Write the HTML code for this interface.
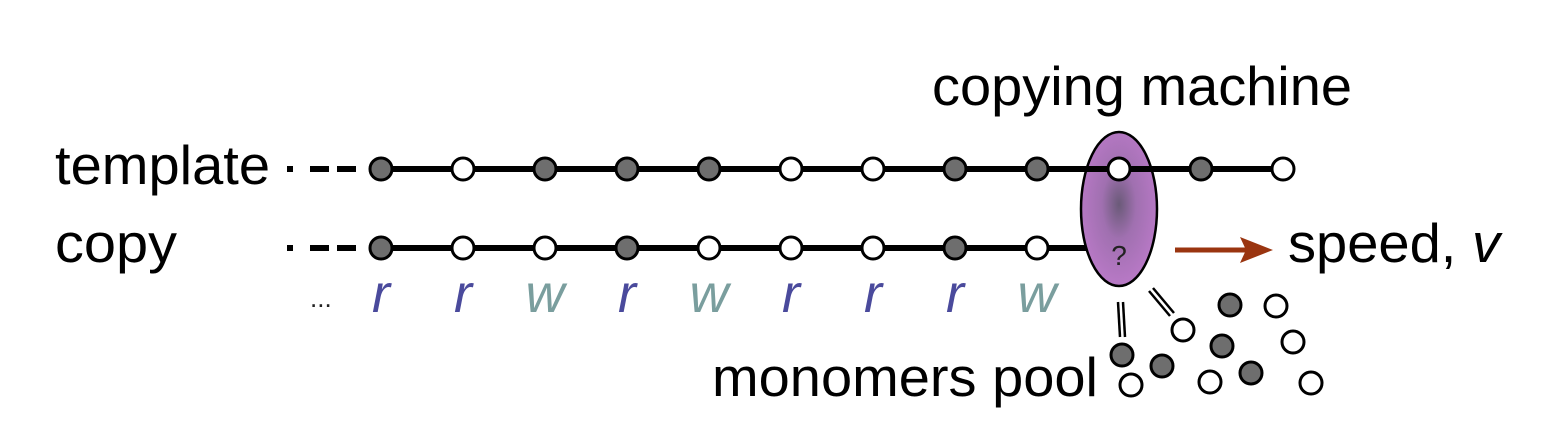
<!DOCTYPE html>
<html><head><style>
html,body{margin:0;padding:0;background:#fff;}
svg{display:block;}
text{font-family:"Liberation Sans",sans-serif;}
</style></head><body>
<svg width="1561" height="433" viewBox="0 0 1561 433" xmlns="http://www.w3.org/2000/svg">
<defs>
<radialGradient id="g" cx="50%" cy="47%" r="50%">
<stop offset="0" stop-color="#6a5a78"/>
<stop offset="0.45" stop-color="#a070b0"/>
<stop offset="1" stop-color="#b678c4"/>
</radialGradient>
</defs>
<text x="932" y="105" font-size="55" textLength="420" lengthAdjust="spacingAndGlyphs">copying machine</text>
<text x="55" y="184" font-size="55" textLength="215" lengthAdjust="spacingAndGlyphs">template</text>
<text x="55" y="262" font-size="55" textLength="122" lengthAdjust="spacingAndGlyphs">copy</text>
<text x="1288" y="262" font-size="55" textLength="212" lengthAdjust="spacingAndGlyphs">speed, <tspan font-style="italic">v</tspan></text>
<text x="712" y="396" font-size="55" textLength="386" lengthAdjust="spacingAndGlyphs">monomers pool</text>
<g fill="#000">
<rect x="287" y="166" width="6" height="6"/><rect x="310" y="166" width="19" height="6"/><rect x="337" y="166" width="19" height="6"/>
<rect x="287" y="245" width="6" height="6"/><rect x="310" y="245" width="19" height="6"/><rect x="337" y="245" width="19" height="6"/>
</g>
<line x1="381" y1="169" x2="1283" y2="169" stroke="#000" stroke-width="6"/>
<line x1="381" y1="248" x2="1090" y2="248" stroke="#000" stroke-width="6"/>
<ellipse cx="1119" cy="209" rx="38" ry="77" fill="url(#g)" stroke="#000" stroke-width="2.5"/>
<line x1="1085" y1="169" x2="1155" y2="169" stroke="#000" stroke-width="6"/>
<text x="1119" y="265" font-size="28" text-anchor="middle" fill="#222">?</text>
<g stroke="#000" stroke-width="3">
<circle cx="381" cy="169" r="11" fill="#6e6e6e"/><circle cx="463" cy="169" r="11" fill="#fff"/>
<circle cx="545" cy="169" r="11" fill="#6e6e6e"/><circle cx="627" cy="169" r="11" fill="#6e6e6e"/>
<circle cx="709" cy="169" r="11" fill="#6e6e6e"/><circle cx="791" cy="169" r="11" fill="#fff"/>
<circle cx="873" cy="169" r="11" fill="#fff"/><circle cx="955" cy="169" r="11" fill="#6e6e6e"/>
<circle cx="1037" cy="169" r="11" fill="#6e6e6e"/><circle cx="1119" cy="169" r="11" fill="#fff"/>
<circle cx="1201" cy="169" r="11" fill="#6e6e6e"/><circle cx="1283" cy="169" r="11" fill="#fff"/>
<circle cx="381" cy="248" r="11" fill="#6e6e6e"/><circle cx="463" cy="248" r="11" fill="#fff"/>
<circle cx="545" cy="248" r="11" fill="#fff"/><circle cx="627" cy="248" r="11" fill="#6e6e6e"/>
<circle cx="709" cy="248" r="11" fill="#fff"/><circle cx="791" cy="248" r="11" fill="#fff"/>
<circle cx="873" cy="248" r="11" fill="#fff"/><circle cx="955" cy="248" r="11" fill="#6e6e6e"/>
<circle cx="1037" cy="248" r="11" fill="#fff"/>
<circle cx="1230" cy="305" r="11" fill="#6e6e6e"/><circle cx="1276" cy="306" r="11" fill="#fff"/>
<circle cx="1183" cy="330" r="11" fill="#fff"/><circle cx="1222" cy="346" r="11" fill="#6e6e6e"/>
<circle cx="1293" cy="342" r="11" fill="#fff"/><circle cx="1122" cy="355" r="11" fill="#6e6e6e"/>
<circle cx="1162" cy="366" r="11" fill="#6e6e6e"/><circle cx="1131" cy="385" r="11" fill="#fff"/>
<circle cx="1210" cy="382" r="11" fill="#fff"/><circle cx="1251" cy="373" r="11" fill="#6e6e6e"/>
<circle cx="1311" cy="383" r="11" fill="#fff"/>
</g>
<g stroke="#000" stroke-width="2.5">
<line x1="1118" y1="302" x2="1120" y2="337"/><line x1="1123" y1="302" x2="1125" y2="337"/>
<line x1="1149" y1="291" x2="1170" y2="316"/><line x1="1153" y1="288" x2="1174" y2="313"/>
</g>
<line x1="1175" y1="250" x2="1246" y2="250" stroke="#9a3510" stroke-width="5"/>
<polygon points="1240,237 1273,250 1240,263 1246,250" fill="#9a3510"/>
<text x="310" y="307" font-size="26" fill="#222">...</text>
<g font-size="54" font-style="italic" text-anchor="middle">
<text x="381" y="312" fill="#4a4a9c">r</text><text x="463" y="312" fill="#4a4a9c">r</text>
<text x="545" y="312" fill="#7a9e9e">w</text><text x="627" y="312" fill="#4a4a9c">r</text>
<text x="709" y="312" fill="#7a9e9e">w</text><text x="791" y="312" fill="#4a4a9c">r</text>
<text x="873" y="312" fill="#4a4a9c">r</text><text x="955" y="312" fill="#4a4a9c">r</text>
<text x="1037" y="312" fill="#7a9e9e">w</text>
</g>
</svg>
</body></html>
